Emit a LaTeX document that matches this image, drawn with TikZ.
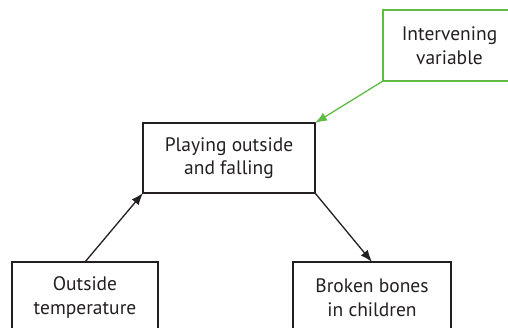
\documentclass[tikz,border=0pt]{standalone}
\usepackage{fontspec}
\setmainfont{PT Sans}
\usetikzlibrary{%
    positioning,
    arrows.meta
}
\definecolor{inkgray}{RGB}{35,31,32}
\definecolor{linkgreen}{RGB}{96,186,70}
\tikzset{
    every node/.style = {
        rectangle, draw=inkgray, line width=1.2pt,
        text=inkgray, align=center,
        font=\fontsize{19.5}{23.5}\selectfont,
        outer sep=0pt,
    },
    link/.style = {
        draw=inkgray, line width=1.3pt,
        -{Latex[length=12pt, width=9pt]}
    }
}

\begin{document}
\begin{tikzpicture}[x=1pt, y=-1pt]
    \useasboundingbox (0, 0) rectangle (508, 328);
    \node[
        minimum width = 172pt,
        minimum height = 70pt
    ] (playing) at (229, 158) {Playing outside\\and falling};
    \node[
        draw=linkgreen,
        minimum width = 133pt,
        minimum height = 71pt
    ] (intervening) at (449.5, 45.5) {Intervening\\variable};
    \node[
        minimum width = 146pt,
        minimum height = 71pt
    ] (temperature) at (85, 297.5) {Outside\\temperature};
    \node[
        minimum width = 158pt,
        minimum height = 71pt,
        right=135pt of temperature
    ] (bones) {Broken bones\\in children};
    % arrows
    \draw[link] (temperature.north) -- (playing.south west);
    \draw[link] (playing.south east) -- (bones.north);
    \draw[link, draw=linkgreen, fill=linkgreen] (intervening.south west) -- (playing.north east);
\end{tikzpicture}
\end{document}
